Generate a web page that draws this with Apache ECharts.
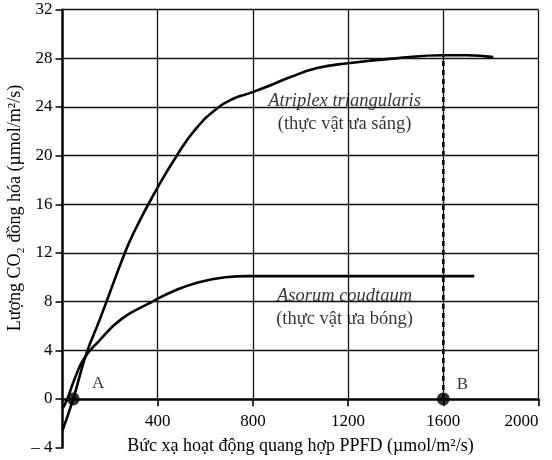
<!DOCTYPE html>
<html>
<head>
<meta charset="utf-8">
<title>PPFD</title>
<script src="https://cdn.jsdelivr.net/npm/echarts@6/dist/echarts.min.js"></script>
<style>
    html, body { margin: 0; padding: 0; background: #fff; }
    #demo { width: 552px; height: 460px; }
</style>
</head>
<body>
<div id="demo"></div>
<script>
/**
 * 数据区 --- 从图上读出来的值
 */
// 刻度
var xTicks = [400, 800, 1200, 1600, 2000];
var yTicks = [4, 8, 12, 16, 20, 24, 28, 32];

// Atriplex triangularis (thực vật ưa sáng) [PPFD, CO2]
var atriplexX = [0, 45, 100, 156, 200, 250, 300, 400, 480, 560, 650, 720, 780, 850, 950, 1070, 1200, 1400, 1600, 1700, 1810];
var atriplexY = [-2.6, 0, 3.7, 6.5, 8.8, 11.4, 13.7, 17.4, 20, 22.2, 23.9, 24.7, 25.1, 25.6, 26.4, 27.2, 27.6, 28.0, 28.25, 28.25, 28.1];

// Asorum coudtaum (thực vật ưa bóng)
var asorumX = [0, 20, 50, 90, 150, 250, 378, 470, 573, 684, 780, 1000, 1400, 1730];
var asorumY = [-0.8, 0, 1.6, 3.3, 4.7, 6.6, 8.0, 8.9, 9.6, 10.0, 10.1, 10.1, 10.1, 10.1];

// 点 A, B
var pointNames = ['A', 'B'];
var pointX = [45, 1600];
var pointY = [0, 0];

// 曲线标注
var noteTitles = ['Atriplex triangularis', 'Asorum coudtaum'];
var noteSubs = ['(thực vật ưa sáng)', '(thực vật ưa bóng)'];
var noteX = [1185, 1185];
var noteY = [23.5, 7.5];

var xTitle = 'Bức xạ hoạt động quang hợp PPFD (µmol/m²/s)';
var yTitle = 'Lượng CO₂ đồng hóa (µmol/m²/s)';

/******************************************************* 函数区 ********************************************************/

var FONT = 'Liberation Serif';
// A、B 文字相对圆点的偏移
var pointLabelOffset = [[25, -15], [19, -14]];

function zipPairs(xs, ys) {
    return xs.map(function (x, i) { return [x, ys[i]]; });
}

// 网格线 (只画 0..32 这一段)
function gridLines() {
    var lines = [];
    xTicks.forEach(function (v) {
        lines.push([{ coord: [v, 0] }, { coord: [v, 32] }]);
    });
    yTicks.forEach(function (v) {
        lines.push([{ coord: [0, v] }, { coord: [2000, v] }]);
    });
    return lines;
}

// x 轴刻度线 (在 0 线下方)
function xTickLines() {
    return xTicks.map(function (v) {
        return [{ coord: [v, 0] }, { coord: [v, -0.6] }];
    });
}

var init_application = function () {
    var myChart = echarts.init(document.getElementById('demo'));
    var option = {
        backgroundColor: '#fff',
        animation: false,
        textStyle: { fontFamily: FONT, color: '#000' },
        grid: { left: 62.5, right: 13.5, top: 9.7, bottom: 12.4, outerBoundsMode: 'none', containLabel: false },
        xAxis: {
            type: 'value',
            min: 0, max: 2000, interval: 400,
            name: xTitle,
            nameLocation: 'middle',
            nameGap: -10,
            nameTextStyle: { fontFamily: FONT, fontSize: 18, color: '#000' },
            axisLine: { onZero: true, lineStyle: { color: '#000', width: 2.5 } },
            axisTick: { show: false },
            axisLabel: {
                fontFamily: FONT, fontSize: 17, color: '#000', margin: -35,
                alignMaxLabel: 'right',
                formatter: function (v) { return v === 0 ? '' : String(v); }
            },
            splitLine: { show: false }
        },
        yAxis: {
            type: 'value',
            min: -4, max: 32, interval: 4,
            axisLine: { lineStyle: { color: '#000', width: 2.5 } },
            axisTick: { show: true, inside: false, length: 7, lineStyle: { color: '#000', width: 1.5 } },
            axisLabel: {
                fontFamily: FONT, fontSize: 17, color: '#000', margin: 10,
                formatter: function (v) { return v === -4 ? '– 4' : String(v); }
            },
            splitLine: { show: false }
        },
        graphic: [{
            type: 'text',
            x: 15, y: 208,
            rotation: Math.PI / 2,
            style: {
                text: yTitle, fontFamily: FONT, fontSize: 18, fill: '#000',
                align: 'center', verticalAlign: 'middle'
            }
        }],
        series: [
            {
                // 网格
                type: 'line', z: 1, data: [], silent: true,
                markLine: {
                    silent: true, symbol: ['none', 'none'], label: { show: false },
                    lineStyle: { color: '#111', width: 1.3, type: 'solid' },
                    data: gridLines()
                }
            },
            {
                // x 轴刻度
                type: 'line', z: 1, data: [], silent: true,
                markLine: {
                    silent: true, symbol: ['none', 'none'], label: { show: false },
                    lineStyle: { color: '#000', width: 1.6, type: 'solid' },
                    data: xTickLines()
                }
            },
            {
                // 标注文字
                type: 'scatter', z: 2, symbolSize: 0, silent: true,
                data: noteX.map(function (x, i) { return { value: [x, noteY[i]], name: String(i) }; }),
                label: {
                    show: true, position: 'inside',
                    backgroundColor: '#fff', padding: [0, 4],
                    formatter: function (p) {
                        var i = +p.name;
                        return '{t|' + noteTitles[i] + '}\n{n|' + noteSubs[i] + '}';
                    },
                    rich: {
                        t: { fontFamily: FONT, fontSize: 18.5, fontStyle: 'italic', color: '#000', lineHeight: 23 },
                        n: { fontFamily: FONT, fontSize: 18.5, color: '#000', lineHeight: 23 }
                    }
                }
            },
            {
                name: 'Atriplex triangularis', type: 'line', z: 3,
                data: zipPairs(atriplexX, atriplexY),
                smooth: 0.5, showSymbol: false,
                lineStyle: { color: '#000', width: 2.6 }
            },
            {
                name: 'Asorum coudtaum', type: 'line', z: 3,
                data: zipPairs(asorumX, asorumY),
                smooth: 0.5, showSymbol: false,
                lineStyle: { color: '#000', width: 2.6 }
            },
            {
                // B 点的虚线
                type: 'line', z: 3,
                data: [[pointX[1], 0], [pointX[1], atriplexY[atriplexX.indexOf(1600)]]],
                showSymbol: false,
                lineStyle: { color: '#000', width: 2.6, type: [5, 4] }
            },
            {
                type: 'scatter', z: 4, symbolSize: 13,
                itemStyle: { color: '#000' },
                data: pointX.map(function (x, i) {
                    return {
                        value: [x, pointY[i]], name: pointNames[i],
                        label: { offset: pointLabelOffset[i] }
                    };
                }),
                label: {
                    show: true, position: 'inside',
                    formatter: '{b}',
                    fontFamily: FONT, fontSize: 17, color: '#000'
                }
            }
        ]
    };
    myChart.setOption(option);
};

init_application();
</script>
</body>
</html>
